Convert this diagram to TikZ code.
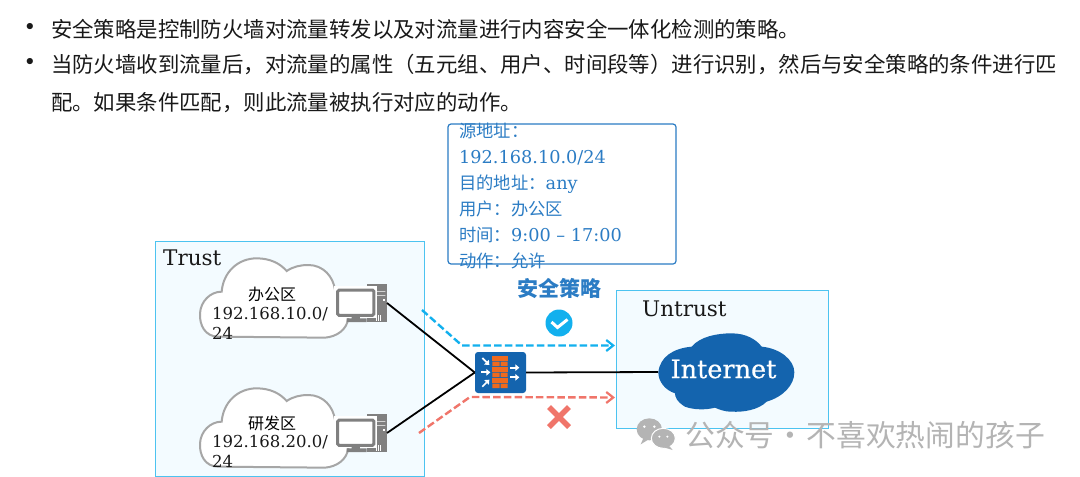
\documentclass[tikz,border=0pt]{standalone}
\usepackage{fontspec}
\usetikzlibrary{arrows.meta}
\setmainfont{DejaVu Serif}
\newfontfamily\cjk{Noto Sans CJK SC}
\newfontfamily\heavyserif[FakeBold=0.6]{DejaVu Serif}
\newcommand{\polcjk}{\cjk\fontsize{17.3}{26}\selectfont}
\definecolor{zonefill}{HTML}{F3FBFF}
\definecolor{zoneline}{HTML}{4CC3F0}
\definecolor{polblue}{HTML}{2B7CC4}
\definecolor{okblue}{HTML}{12B0EE}
\definecolor{badred}{HTML}{F0756A}
\definecolor{fwblue}{HTML}{1464AE}
\definecolor{brick}{HTML}{EE6A1F}
\definecolor{pcgray}{HTML}{808080}
\definecolor{cloudgray}{HTML}{A6A6A6}
\definecolor{wm}{HTML}{B4B4B4}
\tikzset{
  bodytext/.style={font=\cjk\fontsize{21.4}{38}\selectfont,anchor=west,inner sep=0,align=left,text=black!90},
  bulletmark/.style={font=\fontsize{21.4}{24}\selectfont,inner sep=0,text=black!90},
  zonetitle/.style={font=\fontsize{21.5}{24}\selectfont,anchor=west,inner sep=0,text=black!90},
  cloudname/.style={font=\cjk\fontsize{16}{18}\selectfont,inner sep=0,text=black},
  cloudaddr/.style={font=\fontsize{16.5}{20}\selectfont,inner sep=0,anchor=north west,align=left,text=black!90},
  wire/.style={line width=1.8pt,draw=black},
  okflow/.style={draw=okblue,line width=2.4pt,dash pattern=on 7.5pt off 3.2pt},
  badflow/.style={draw=badred,line width=2.4pt,dash pattern=on 7.5pt off 3.2pt},
  flowtip/.style={-{Straight Barb[length=7pt,width=11pt,line width=2.2pt]}},
  bricks/.style={fill=brick,draw=none},
  fwarrow/.style={draw=white,line width=1.7pt,-{Triangle[length=4pt,width=6.5pt]}},
  pics/graycloud/.style={code={
    \draw[fill=white,draw=cloudgray,line width=2pt]
      (205,305) .. controls (165,305) and (148,270) .. (150,235)
      .. controls (152,200) and (180,170) .. (215,170)
      .. controls (220,110) and (265,70) .. (320,70)
      .. controls (360,70) and (390,85) .. (410,108)
      .. controls (430,95) and (450,90) .. (475,90)
      .. controls (520,90) and (550,125) .. (555,165)
      .. controls (590,180) and (600,220) .. (595,250)
      .. controls (590,285) and (560,305) .. (525,308) -- cycle;
  }},
  pics/desktop/.style={code={
    \fill[pcgray] (650,148) rectangle (712,262);
    \fill[white] (680,168) rectangle (706,170) (680,180) rectangle (706,182);
    \fill[white] (700,192) rectangle (706,198);
    \draw[white,line width=.4pt] (678,240) -- (678,258) (685,240) -- (685,258) (692,240) -- (692,258);
    \fill[white] (553,153) rectangle (680,250);
    \draw[pcgray,line width=3pt,fill=white,rounded corners=1.5pt] (563,165) rectangle (672,241);
    \fill[pcgray] (605,243) rectangle (630,252) (590,250) rectangle (650,261);
  }}
}
\begin{document}
\begin{tikzpicture}[x=1pt,y=-1pt]
\useasboundingbox (0,0) rectangle (1080,477);
\fill[white] (0,0) rectangle (1080,477);
% bullets and body text
\node[bulletmark] (b1) at (30,29) {•};
\node[bodytext] (t1) at (51,29) {安全策略是控制防火墙对流量转发以及对流量进行内容安全一体化检测的策略。};
\node[bulletmark] (b2) at (30,64) {•};
\node[bodytext,anchor=north west] (t2) at (51,54) {当防火墙收到流量后，对流量的属性（五元组、用户、时间段等）进行识别，然后与安全策略的条件进行匹\\配。如果条件匹配，则此流量被执行对应的动作。};
% zones
\node[draw=zoneline,fill=zonefill,line width=1pt,inner sep=0,minimum width=269pt,minimum height=235pt] (trust) at (289.5,358.5) {};
\node[draw=zoneline,fill=zonefill,line width=1pt,inner sep=0,minimum width=212pt,minimum height=138pt] (untrust) at (722,359) {};
\node[zonetitle] (trustlabel) at (163,258) {Trust};
\node[zonetitle] (untrustlabel) at (642,309) {Untrust};
% clouds and computers
\begin{scope}[shift={(150,235)},scale=1/3]
  \pic[transform shape] {graycloud}; \pic[transform shape] {desktop};
\end{scope}
\begin{scope}[shift={(150,365)},scale=1/3]
  \pic[transform shape] {graycloud}; \pic[transform shape] {desktop};
\end{scope}
\node[cloudname] (office) at (272,294) {办公区};
\node[cloudaddr] (officeaddr) at (212,307) {192.168.10.0/\\24};
\node[cloudname] (rd) at (272,423) {研发区};
\node[cloudaddr] (rdaddr) at (212,435) {192.168.20.0/\\24};
\coordinate (pc1) at (387,303);
\coordinate (pc2) at (387,433);
% internet cloud
\begin{scope}[shift={(610,285)},scale=1/3]
  \fill[fwblue] (145,262) .. controls (150,215) and (190,190) .. (245,185)
    .. controls (270,155) and (320,145) .. (365,145)
    .. controls (410,145) and (440,165) .. (455,185)
    .. controls (510,190) and (553,225) .. (553,262)
    .. controls (553,300) and (520,335) .. (470,350)
    .. controls (445,375) and (400,382) .. (365,380)
    .. controls (340,380) and (325,372) .. (315,368)
    .. controls (290,375) and (250,375) .. (225,365)
    .. controls (200,350) and (195,335) .. (195,325)
    .. controls (165,315) and (145,290) .. (145,262) -- cycle;
\end{scope}
\node[font=\heavyserif\fontsize{25.5}{28}\selectfont,text=white,inner sep=0] (internet) at (723.5,369) {Internet};
\coordinate (inetwest) at (658,372);
% firewall
\node[fill=fwblue,rounded corners=3pt,minimum width=51pt,minimum height=41pt,inner sep=0] (fw) at (500.5,372.5) {};
\begin{scope}[shift={(410,270)},scale=1/3]
  \foreach \yy in {258,291,324}{\fill[bricks] (247,\yy) rectangle (293,\yy+14);}
  \foreach \yy in {274.5,307.5,340.5}{\fill[bricks] (247,\yy) rectangle (269,\yy+14) (272,\yy) rectangle (293,\yy+14);}
  \draw[fwarrow] (217,264) -- (238,285);
  \draw[fwarrow] (214,307) -- (241,307);
  \draw[fwarrow] (217,350) -- (238,329);
  \draw[fwarrow] (300,293) -- (328,293);
  \draw[fwarrow] (300,322) -- (328,322);
\end{scope}
% connectors
\draw[wire] (pc1) -- (fw.west);
\draw[wire] (pc2) -- (fw.west);
\draw[wire] (fw.east) -- (inetwest);
\coordinate (okstart) at (422,310);
\coordinate (okbend) at (462,345.5);
\coordinate (okend) at (615,345.5);
\coordinate (badstart) at (419,433);
\coordinate (badbend) at (470,397);
\coordinate (badend) at (615,397.5);
\draw[okflow,flowtip] (okstart) -- (okbend) -- (okend);
\draw[badflow,flowtip] (badstart) -- (badbend) -- (badend);
% verdict marks
\node[fill=okblue,circle,minimum size=27pt,inner sep=0] (okmark) at (559,323) {};
\draw[white,line width=3pt] (551.5,322) -- (557.5,327.5) -- (567.5,319.5);
\coordinate (xmark) at (559,417);
\draw[badred,line width=5.5pt] ([shift={(-10,-10)}]xmark) -- ([shift={(10,10)}]xmark);
\draw[badred,line width=5.5pt] ([shift={(-10,10)}]xmark) -- ([shift={(10,-10)}]xmark);
\node[font=\cjk\bfseries\fontsize{21}{24}\selectfont,text=polblue,inner sep=0] (polname) at (559,289) {安全策略};
% policy box
\node[draw=polblue,line width=1.2pt,rounded corners=3pt,minimum width=228pt,minimum height=140pt,inner sep=0] (policy) at (562,194) {};
\node[font=\fontsize{17.7}{26}\selectfont,text=polblue,inner sep=0,align=left,anchor=north west] (policytext) at (459,123) {{\polcjk 源地址：}\\192.168.10.0/24\\{\polcjk 目的地址：}any\\{\polcjk 用户：办公区}\\{\polcjk 时间：}9:00 – 17:00\\{\polcjk 动作：允许}};
% watermark
\begin{scope}[shift={(610,285)},scale=1/3]
  \fill[wm] (118,433) ellipse (38 and 33);
  \fill[wm] (100,460) -- (92,478) -- (118,462) -- cycle;
  \draw[white,line width=1pt,fill=wm] (160,460) ellipse (36 and 30);
  \fill[wm] (175,480) -- (188,495) -- (155,485) -- cycle;
  \fill[white] (103,425) circle (4) (133,425) circle (4) (148,455) circle (3.5) (172,455) circle (3.5);
\end{scope}
\node[font=\cjk\fontsize{29.8}{32}\selectfont,text=wm,inner sep=0,anchor=west] (wmtext) at (685,435) {公众号\kern1pt·\kern1pt不喜欢热闹的孩子};
\end{tikzpicture}
\end{document}
